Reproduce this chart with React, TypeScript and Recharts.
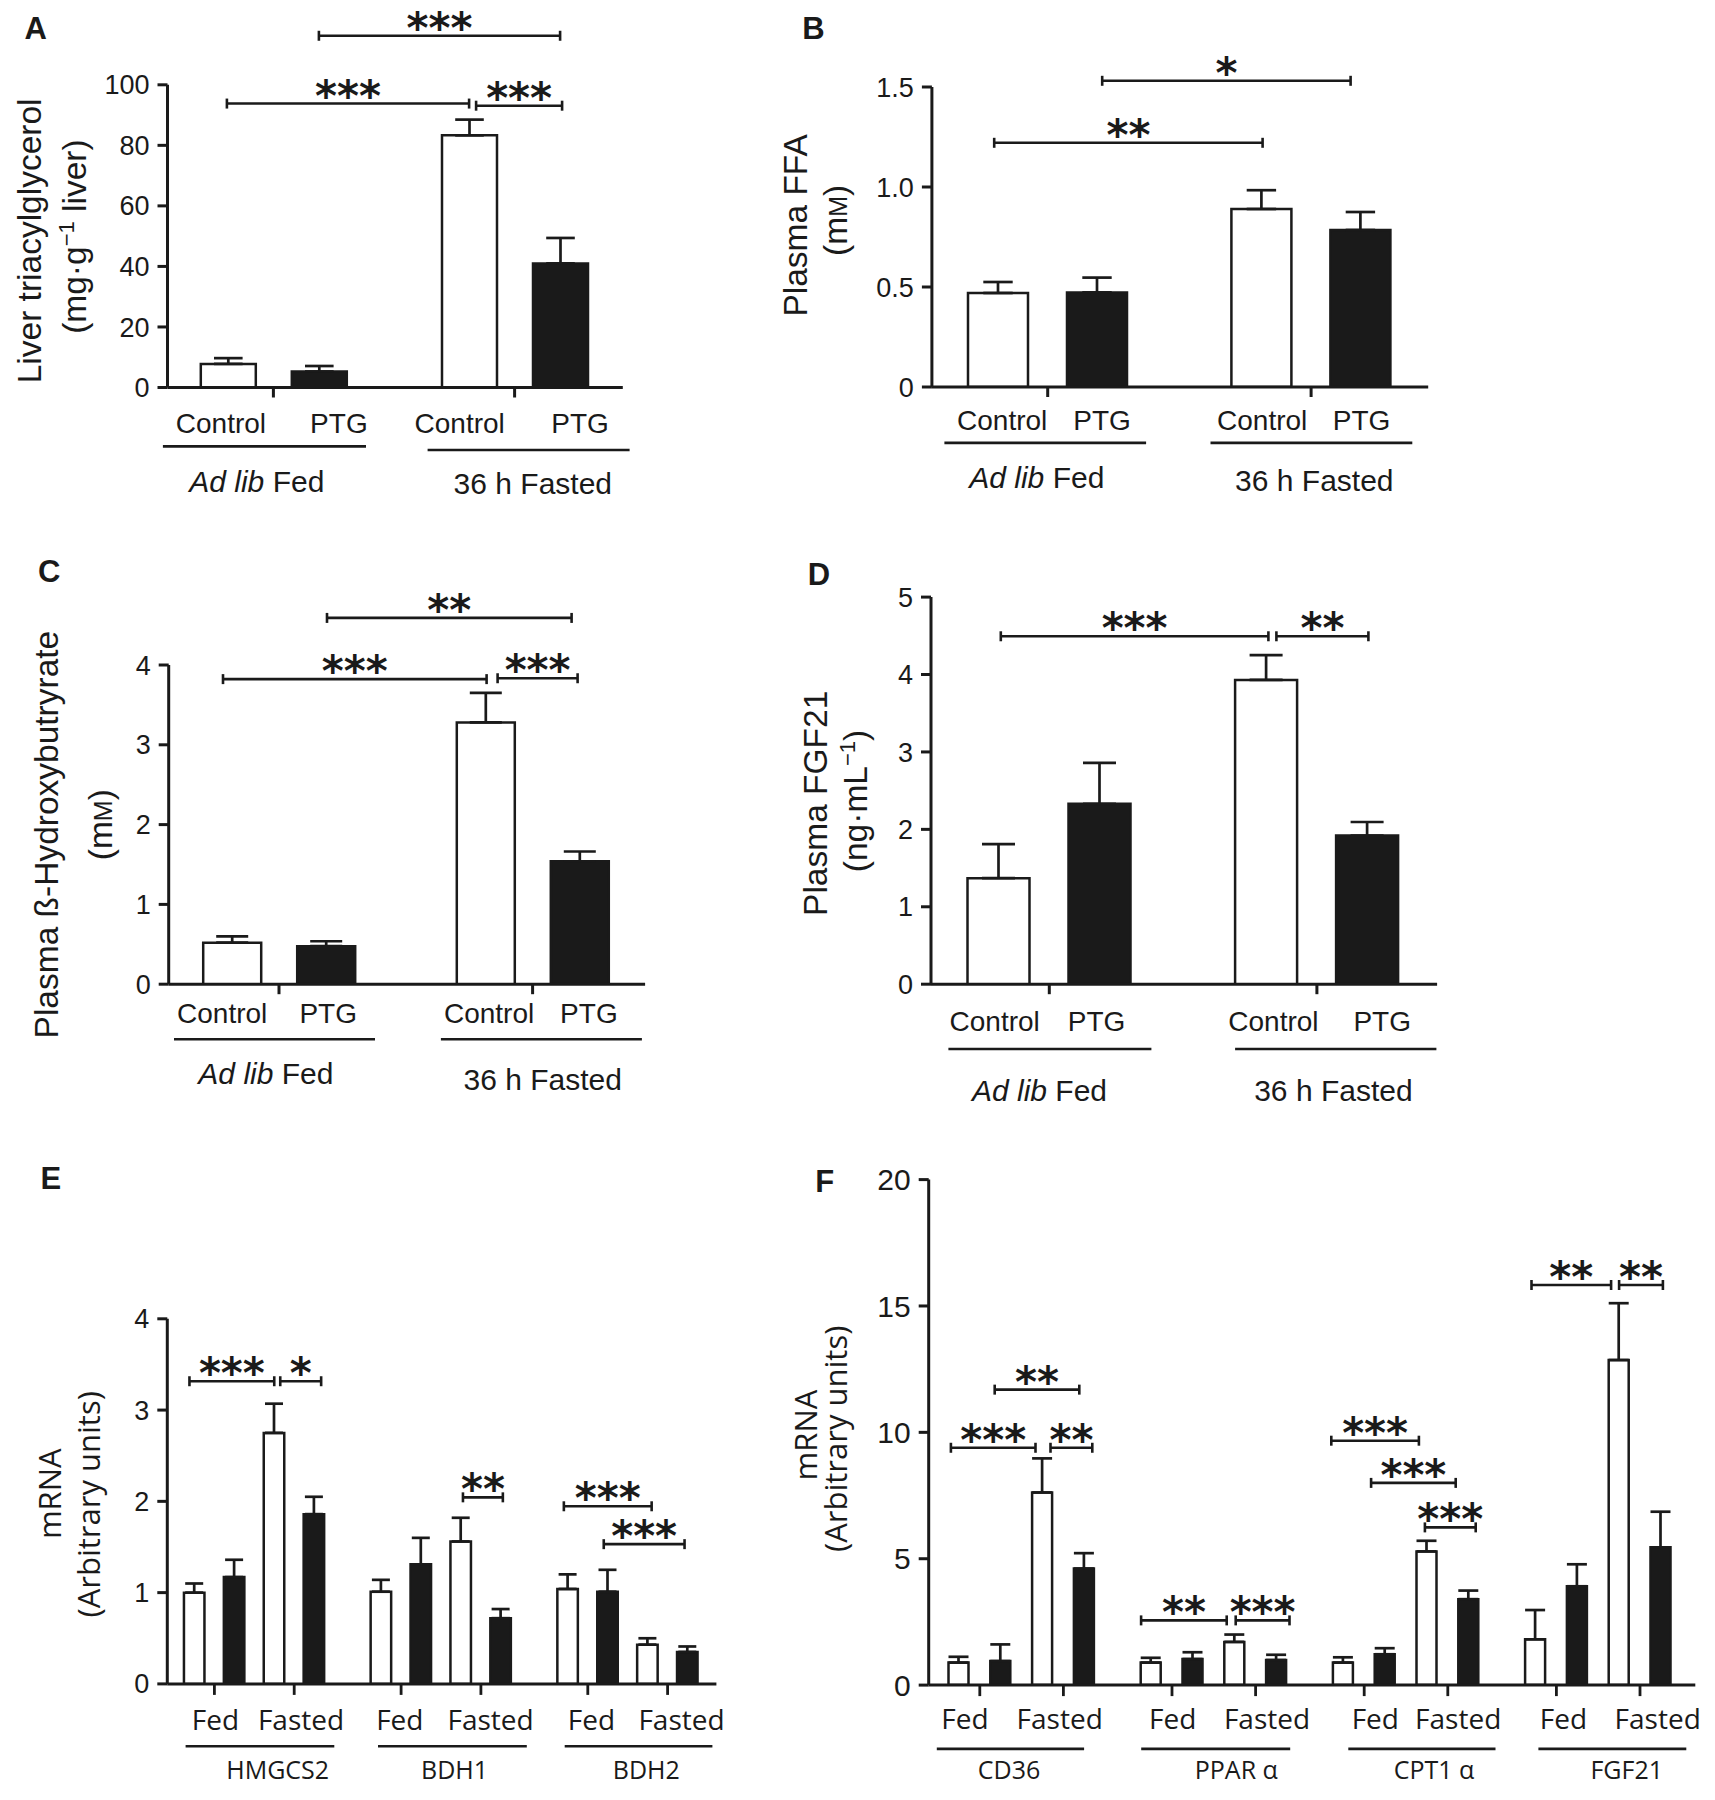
import React from 'react';
import { BarChart, Bar, XAxis, YAxis, ErrorBar, ReferenceLine } from 'recharts';

const INK = '#1a1a1a';
const HELV = '"Liberation Sans", Arial, Helvetica, sans-serif';
const MYRIAD = '"Open Sans", "Noto Sans", sans-serif';
const STAR = '"DejaVu Sans", sans-serif';

// ---- A–D: Control vs PTG mice, ad lib fed and 36 h fasted ----
const conditions = ['Ad lib Fed', '36 h Fasted'];

// A: liver triacylglycerol (mg·g-1 liver)
const tagControl = [7.8, 83.3];
const tagControlSem = [1.9, 5.2];
const tagPtg = [5.3, 41.0];
const tagPtgSem = [1.8, 8.4];

// B: plasma FFA (mM)
const ffaControl = [0.47, 0.89];
const ffaControlSem = [0.055, 0.094];
const ffaPtg = [0.473, 0.785];
const ffaPtgSem = [0.074, 0.09];

// C: plasma ß-hydroxybutyrate (mM)
const bhbControl = [0.52, 3.28];
const bhbControlSem = [0.08, 0.37];
const bhbPtg = [0.476, 1.54];
const bhbPtgSem = [0.062, 0.123];

// D: plasma FGF21 (ng·mL-1)
const fgfControl = [1.37, 3.93];
const fgfControlSem = [0.44, 0.32];
const fgfPtg = [2.33, 1.92];
const fgfPtgSem = [0.53, 0.175];

// E: ketogenic genes, mRNA (arbitrary units)
const ketoGenes = ['HMGCS2', 'BDH1', 'BDH2'];
const ketoCtrlFed = [1.0, 1.01, 1.04];
const ketoCtrlFedSem = [0.1, 0.13, 0.16];
const ketoPtgFed = [1.17, 1.31, 1.01];
const ketoPtgFedSem = [0.19, 0.29, 0.24];
const ketoCtrlFast = [2.75, 1.56, 0.43];
const ketoCtrlFastSem = [0.32, 0.26, 0.07];
const ketoPtgFast = [1.86, 0.72, 0.35];
const ketoPtgFastSem = [0.19, 0.1, 0.06];

// F: lipid oxidation genes and FGF21, mRNA (arbitrary units)
const faoGenes = ['CD36', 'PPAR α', 'CPT1 α', 'FGF21'];
const faoCtrlFed = [0.89, 0.89, 0.89, 1.81];
const faoCtrlFedSem = [0.23, 0.19, 0.21, 1.16];
const faoPtgFed = [0.95, 1.03, 1.22, 3.91];
const faoPtgFedSem = [0.66, 0.27, 0.24, 0.87];
const faoCtrlFast = [7.62, 1.71, 5.29, 12.86];
const faoCtrlFastSem = [1.35, 0.29, 0.42, 2.25];
const faoPtgFast = [4.61, 0.99, 3.4, 5.45];
const faoPtgFastSem = [0.61, 0.21, 0.34, 1.41];

// significance brackets: [category, bar in group] -> [category, bar], height, label, pixel nudge
type Bracket = { a: [number, number]; b: [number, number]; y: number; label: string; dx?: [number, number] };

const tagBrackets: Bracket[] = [
  { a: [0, 1], b: [1, 1], y: 116.2, label: '***' },
  { a: [0, 0], b: [1, 0], y: 93.8, label: '***', dx: [-1, 0] },
  { a: [1, 0], b: [1, 1], y: 93.1, label: '***', dx: [7, 2] },
];
const ffaBrackets: Bracket[] = [
  { a: [0, 1], b: [1, 1], y: 1.531, label: '*', dx: [5, -10] },
  { a: [0, 0], b: [1, 0], y: 1.221, label: '**', dx: [-4, 1] },
];
const bhbBrackets: Bracket[] = [
  { a: [0, 1], b: [1, 1], y: 4.59, label: '**', dx: [1, -8] },
  { a: [0, 0], b: [1, 0], y: 3.823, label: '***', dx: [-9, 1] },
  { a: [1, 0], b: [1, 1], y: 3.834, label: '***', dx: [12, -2] },
];
const fgfBrackets: Bracket[] = [
  { a: [0, 0], b: [1, 0], y: 4.494, label: '***', dx: [2, 2] },
  { a: [1, 0], b: [1, 1], y: 4.494, label: '**', dx: [10, 1] },
];
const ketoBrackets: Bracket[] = [
  { a: [0, 0], b: [0, 2], y: 3.316, label: '***', dx: [-5, 0] },
  { a: [0, 2], b: [0, 3], y: 3.316, label: '*', dx: [6, 7] },
  { a: [1, 2], b: [1, 3], y: 2.044, label: '**', dx: [2, 2] },
  { a: [2, 0], b: [2, 2], y: 1.946, label: '***', dx: [-4, 4] },
  { a: [2, 1], b: [2, 3], y: 1.531, label: '***', dx: [-4, -3] },
];
const faoBrackets: Bracket[] = [
  { a: [0, 0], b: [0, 2], y: 9.39, label: '***', dx: [-8, -7] },
  { a: [0, 2], b: [0, 3], y: 9.39, label: '**', dx: [8, 8] },
  { a: [0, 1], b: [0, 3], y: 11.69, label: '**', dx: [-6, -5] },
  { a: [1, 0], b: [1, 2], y: 2.56, label: '**', dx: [-10, -8] },
  { a: [1, 2], b: [1, 3], y: 2.56, label: '***', dx: [1, 13] },
  { a: [2, 0], b: [2, 2], y: 9.67, label: '***', dx: [-12, -8] },
  { a: [2, 1], b: [2, 3], y: 8.0, label: '***', dx: [-14, -13] },
  { a: [2, 2], b: [2, 3], y: 6.24, label: '***', dx: [-2, 7] },
  { a: [3, 0], b: [3, 2], y: 15.83, label: '**', dx: [-4, -8] },
  { a: [3, 2], b: [3, 3], y: 15.83, label: '**', dx: [0, 2] },
];

const pairSeries = [
  { key: 'control', fill: '#ffffff' },
  { key: 'ptg', fill: INK },
];
const geneSeries = [
  { key: 'ctrlFed', fill: '#ffffff' },
  { key: 'ptgFed', fill: INK },
  { key: 'ctrlFast', fill: '#ffffff' },
  { key: 'ptgFast', fill: INK },
];

const pairRows = (c: number[], cs: number[], p: number[], ps: number[]) =>
  conditions.map((cat, i) => ({
    cat,
    control: c[i], controlErr: [0, cs[i]],
    ptg: p[i], ptgErr: [0, ps[i]],
  }));

const geneRows = (genes: string[], v: number[][], s: number[][]) =>
  genes.map((cat, i) => {
    const row: any = { cat };
    geneSeries.forEach((ser, j) => {
      row[ser.key] = v[j][i];
      row[ser.key + 'Err'] = [0, s[j][i]];
    });
    return row;
  });

// layout in page pixels: box = chart rect, plot = [axis x, top value y, axis end x, zero y]
const panels: any[] = [
  {
    kind: 'pair', box: [0, 0, 720, 520], plot: [167.5, 84.8, 622.8, 387.5], pad: [-14.7, -12.4],
    barSize: 55, barGap: 36, cap: 14.3, yMax: 100, yTicks: [0, 20, 40, 60, 80, 100], tickFont: 27,
    data: pairRows(tagControl, tagControlSem, tagPtg, tagPtgSem), series: pairSeries, brackets: tagBrackets,
    lay: {
      labelY: 433.1, labelDx: [[-52.5, 65.5], [-54.9, 65.4]], line: [[-110.5, 92.6], [-87, 115]],
      lineY: [446.4, 450], groupDx: [-16.6, 18.2], groupY: [492, 494.1],
    },
  },
  {
    kind: 'pair', box: [720, 0, 780, 520], plot: [931.9, 87, 1428.2, 387], pad: [-15.9, -14.6],
    barSize: 60, barGap: 39, cap: 14.7, yMax: 1.5, yTicks: [0, 0.5, 1, 1.5], tickFont: 27,
    fmt: (v: number) => (v === 0 ? '0' : v.toFixed(1)),
    data: pairRows(ffaControl, ffaControlSem, ffaPtg, ffaPtgSem), series: pairSeries, brackets: ffaBrackets,
    lay: {
      labelY: 429.6, labelDx: [[-45.5, 54.3], [-48.9, 50.4]], line: [[-103.3, 98.4], [-100.6, 101.2]],
      lineY: [442.9, 442.9], groupDx: [-10.9, 3.2], groupY: [488.2, 490.7],
    },
  },
  {
    kind: 'pair', box: [0, 520, 720, 590], plot: [168.7, 665, 645.1, 984.2], pad: [-16.5, -14.3],
    barSize: 58, barGap: 36, cap: 16, yMax: 4, yTicks: [0, 1, 2, 3, 4], tickFont: 27,
    data: pairRows(bhbControl, bhbControlSem, bhbPtg, bhbPtgSem), series: pairSeries, brackets: bhbBrackets,
    lay: {
      labelY: 1023.1, labelDx: [[-56.8, 49.2], [-43.5, 56.3]], line: [[-105, 96], [-91.7, 109.3]],
      lineY: [1039.2, 1039.2], groupDx: [-13.1, 10.1], groupY: [1084.2, 1089.9],
    },
  },
  {
    kind: 'pair', box: [720, 520, 780, 590], plot: [931, 597.1, 1437.1, 984.2], pad: [-15.5, -13.6],
    barSize: 62, barGap: 39, cap: 16.5, yMax: 5, yTicks: [0, 1, 2, 3, 4, 5], tickFont: 27,
    data: pairRows(fgfControl, fgfControlSem, fgfPtg, fgfPtgSem), series: pairSeries, brackets: fgfBrackets,
    lay: {
      labelY: 1031, labelDx: [[-54.6, 47.2], [-43.5, 65.3]], line: [[-100.9, 102.1], [-81.8, 119.5]],
      lineY: [1049, 1049], groupDx: [-9.8, 16.5], groupY: [1100.9, 1100.9],
    },
  },
  {
    kind: 'gene', box: [0, 1110, 760, 690], plot: [167.3, 1318.8, 716.4, 1683.9], pad: [-6.35, -4.65],
    barSize: 20.5, barGap: 19.4, cap: 9, yMax: 4, yTicks: [0, 1, 2, 3, 4], tickFont: 27,
    data: geneRows(ketoGenes,
      [ketoCtrlFed, ketoPtgFed, ketoCtrlFast, ketoPtgFast],
      [ketoCtrlFedSem, ketoPtgFedSem, ketoCtrlFastSem, ketoPtgFastSem]),
    series: geneSeries, brackets: ketoBrackets,
    lay: {
      labelY: 1729.6, labelDx: [[-38.8, 46.7], [-41.2, 49.6], [-36.2, 53.8]],
      line: [[-68.7, 80], [-63, 85.8], [-63, 84.7]], lineY: 1746.2,
      geneDx: [23.4, 13.6, 18.6], geneY: 1778.5, pairDx: 39.9,
    },
  },
  {
    kind: 'gene', box: [760, 1110, 955, 690], plot: [928.7, 1179.6, 1695.3, 1685.1], pad: [-3.2, 1],
    barSize: 20, barGap: 21.8, cap: 10, yMax: 20, yTicks: [0, 5, 10, 15, 20], tickFont: 30,
    data: geneRows(faoGenes,
      [faoCtrlFed, faoPtgFed, faoCtrlFast, faoPtgFast],
      [faoCtrlFedSem, faoPtgFedSem, faoCtrlFastSem, faoPtgFastSem]),
    series: geneSeries, brackets: faoBrackets,
    lay: {
      labelY: 1729.3, labelDx: [[-56.7, 38.1], [-41.1, 53.2], [-30.7, 52.2], [-34.8, 59.5]],
      line: [[-84.8, 62.5], [-72.6, 76.4], [-57.7, 89.5], [-59.8, 88.1]], lineY: 1748.9,
      geneDx: [-12.6, 22.5, 28, 28.5], geneY: 1779.3, pairDx: 41.8,
    },
  },
];

function PairTick(props: any) {
  const { x, index, payload, lay, by } = props;
  const i = index;
  const name: string = payload.value;
  return (
    <g>
      <text x={x + lay.labelDx[i][0]} y={lay.labelY - by} textAnchor="middle" fontSize={28} fontFamily={HELV} fill={INK}>Control</text>
      <text x={x + lay.labelDx[i][1]} y={lay.labelY - by} textAnchor="middle" fontSize={28} fontFamily={HELV} fill={INK}>PTG</text>
      <line x1={x + lay.line[i][0]} x2={x + lay.line[i][1]} y1={lay.lineY[i] - by} y2={lay.lineY[i] - by} stroke={INK} strokeWidth={2.6} />
      <text x={x + lay.groupDx[i]} y={lay.groupY[i] - by} textAnchor="middle" fontSize={30} fontFamily={HELV} fill={INK}>
        {name.startsWith('Ad lib') ? (
          <>
            <tspan fontStyle="italic">Ad lib</tspan>
            {name.slice(6)}
          </>
        ) : name}
      </text>
    </g>
  );
}

function GeneTick(props: any) {
  const { x, index, payload, lay, by, axisY } = props;
  const i = index;
  const ty = lay.labelY - by;
  return (
    <g>
      <line x1={x - lay.pairDx} x2={x - lay.pairDx} y1={axisY} y2={axisY + 11} stroke={INK} strokeWidth={2.8} />
      <line x1={x + lay.pairDx} x2={x + lay.pairDx} y1={axisY} y2={axisY + 11} stroke={INK} strokeWidth={2.8} />
      <text x={x + lay.labelDx[i][0]} y={ty} textAnchor="middle" fontSize={28} fontFamily={MYRIAD} fill={INK}>Fed</text>
      <text x={x + lay.labelDx[i][1]} y={ty} textAnchor="middle" fontSize={28} fontFamily={MYRIAD} fill={INK}>Fasted</text>
      <line x1={x + lay.line[i][0]} x2={x + lay.line[i][1]} y1={lay.lineY - by} y2={lay.lineY - by} stroke={INK} strokeWidth={2.6} />
      <text x={x + lay.geneDx[i]} y={lay.geneY - by} textAnchor="middle" fontSize={25} fontFamily={MYRIAD} fill={INK}>{payload.value}</text>
    </g>
  );
}

function BracketMark(props: any) {
  const { x1, x2, y1, dxa, dxb, label } = props;
  const xa = x1 + dxa;
  const xb = x2 + dxb;
  return (
    <g>
      <line x1={xa} x2={xb} y1={y1} y2={y1} stroke={INK} strokeWidth={2.6} />
      <line x1={xa} x2={xa} y1={y1 - 5} y2={y1 + 5} stroke={INK} strokeWidth={2.6} />
      <line x1={xb} x2={xb} y1={y1 - 5} y2={y1 + 5} stroke={INK} strokeWidth={2.6} />
      <text x={(xa + xb) / 2} y={y1 + 7} textAnchor="middle" fontSize={42} fontWeight="bold" fontFamily={STAR} fill={INK}>{label}</text>
    </g>
  );
}

function Panel({ cfg }: { cfg: any }) {
  const [bx, by, bw, bh] = cfg.box;
  const [pl, pt, pr, pb] = cfg.plot;
  const YW = 70;
  const XH = 100;
  const margin = { left: pl - bx - YW, top: pt - by, right: bx + bw - pr, bottom: by + bh - pb - XH };
  const step = cfg.barSize + cfg.barGap;
  const n = cfg.series.length;
  const barOff = (j: number) => (j - (n - 1) / 2) * step;
  const cats = cfg.data.map((d: any) => d.cat);
  const axisY = pb - by;
  const axisStyle = { stroke: INK, strokeWidth: 3 };

  return (
    <div style={{ position: 'absolute', left: bx, top: by }}>
      <BarChart width={bw} height={bh} data={cfg.data} margin={margin} barGap={cfg.barGap}>
        <XAxis
          dataKey="cat"
          height={XH}
          interval={0}
          padding={{ left: cfg.pad[0], right: cfg.pad[1] }}
          axisLine={axisStyle}
          tickLine={cfg.kind === 'pair' ? axisStyle : false}
          tickSize={10}
          tick={(p: any) =>
            cfg.kind === 'pair'
              ? <PairTick {...p} lay={cfg.lay} by={by} />
              : <GeneTick {...p} lay={cfg.lay} by={by} axisY={axisY} />
          }
        />
        <YAxis
          type="number"
          width={YW}
          domain={[0, cfg.yMax]}
          ticks={cfg.yTicks}
          interval={0}
          allowDataOverflow
          tickFormatter={cfg.fmt}
          axisLine={axisStyle}
          tickLine={axisStyle}
          tickSize={10}
          tickMargin={8}
          tick={{ fill: INK, fontSize: cfg.tickFont, fontFamily: HELV }}
        />
        {cfg.series.map((s: any) => (
          <Bar key={s.key} dataKey={s.key} fill={s.fill} stroke={INK} strokeWidth={2.5} barSize={cfg.barSize} isAnimationActive={false}>
            <ErrorBar dataKey={s.key + 'Err'} direction="y" width={cfg.cap} stroke={INK} strokeWidth={2.7} isAnimationActive={false} />
          </Bar>
        ))}
        {cfg.brackets.map((b: Bracket, i: number) => {
          const dx = b.dx || [0, 0];
          return (
            <ReferenceLine
              key={i}
              ifOverflow="visible"
              segment={[{ x: cats[b.a[0]], y: b.y }, { x: cats[b.b[0]], y: b.y }]}
              shape={(p: any) => (
                <BracketMark {...p} dxa={barOff(b.a[1]) + dx[0]} dxb={barOff(b.b[1]) + dx[1]} label={b.label} />
              )}
            />
          );
        })}
      </BarChart>
    </div>
  );
}

function VLabel({ x, y, size, font, children }: any) {
  return (
    <text transform={`translate(${x + 0.34 * size},${y}) rotate(-90)`} textAnchor="middle" fontSize={size} fontFamily={font} fill={INK}>
      {children}
    </text>
  );
}

const letters: [string, number, number][] = [
  ['A', 35.6, 27.7], ['B', 813.4, 27.7], ['C', 49.1, 571.2],
  ['D', 818.9, 573.5], ['E', 50.9, 1178.1], ['F', 824.7, 1181],
];

export default function App() {
  return (
    <div style={{ position: 'absolute', left: 0, top: 0, width: 1715, height: 1800, background: '#fff', overflow: 'hidden' }}>
      {panels.map((cfg, i) => <Panel key={i} cfg={cfg} />)}
      <svg width={1715} height={1800} style={{ position: 'absolute', left: 0, top: 0, pointerEvents: 'none' }}>
        {letters.map(([t, x, y]) => (
          <text key={t} x={x} y={y + 11} textAnchor="middle" fontSize={31} fontWeight="bold" fontFamily={HELV} fill={INK}>{t}</text>
        ))}
        <VLabel x={29.7} y={240.9} size={33.5} font={HELV}>Liver triacylglycerol</VLabel>
        <VLabel x={75.1} y={236.6} size={33.5} font={HELV}>
          (mg·g<tspan fontSize={22} dy={-12}>−1</tspan><tspan dy={12}> liver)</tspan>
        </VLabel>
        <VLabel x={795.6} y={225.4} size={33.5} font={HELV}>Plasma FFA</VLabel>
        <VLabel x={835.6} y={220.4} size={33.5} font={HELV}>(m<tspan fontSize={25}>M</tspan>)</VLabel>
        <VLabel x={47} y={834.6} size={33.5} font={HELV}>Plasma ß-Hydroxybutryrate</VLabel>
        <VLabel x={100.4} y={824.7} size={33.5} font={HELV}>(m<tspan fontSize={25}>M</tspan>)</VLabel>
        <VLabel x={815.9} y={803.3} size={33.5} font={HELV}>Plasma FGF21</VLabel>
        <VLabel x={855.9} y={801} size={33.5} font={HELV}>
          (ng·mL<tspan fontSize={22} dy={-12}>−1</tspan><tspan dy={12}>)</tspan>
        </VLabel>
        <VLabel x={50.9} y={1493.7} size={31} font={MYRIAD}>mRNA</VLabel>
        <VLabel x={89.7} y={1504.3} size={31} font={MYRIAD}>(Arbitrary units)</VLabel>
        <VLabel x={806.7} y={1435} size={31} font={MYRIAD}>mRNA</VLabel>
        <VLabel x={836.4} y={1438.8} size={31} font={MYRIAD}>(Arbitrary units)</VLabel>
      </svg>
    </div>
  );
}
